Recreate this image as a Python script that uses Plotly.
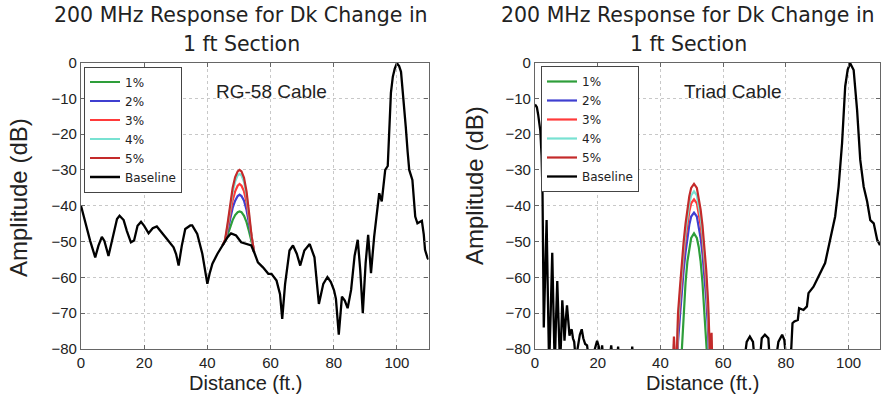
import plotly.graph_objects as go

# ---------------- data ----------------
series_names = ["1%", "2%", "3%", "4%", "5%", "Baseline"]

# RG-58 cable (left panel)
rg_x = [0, 1.3, 2.9, 4.5, 5.5, 6.6, 7.4, 8.7, 10.1, 11.4, 12.2, 13.5, 14.5, 15.8, 16.8, 17.9,
        19.0, 20.0, 21.4, 22.7, 24.0, 25.6, 27.2, 29.3, 30.1, 30.9, 31.9, 33.0, 34.6, 35.2,
        36.8, 38.4, 39.5, 40.0, 40.7, 41.6, 43.2, 44.8, 46.4, 47.5, 49.1, 50.7, 52.8, 53.9,
        55.0, 56.0, 57.6, 59.3, 60.3, 61.9, 63.0, 63.7, 64.6, 66.0, 67.1, 68.3, 69.4, 70.7,
        72.4, 73.9, 75.3, 76.7, 78.0, 79.1, 80.1, 80.7, 81.6, 82.6, 83.5, 84.4, 85.5, 86.6,
        87.6, 88.4, 89.2, 90.1, 90.9, 91.8, 92.8, 93.6, 94.4, 95.2, 96.3, 97.1, 97.6, 98.1,
        98.7, 99.3, 100.0, 100.7, 101.3, 102.0, 102.8, 103.4, 103.9, 104.9, 105.8, 106.5,
        107.9, 108.5, 108.9, 109.7, 110.0]
rg_base = [-40.0, -44.7, -49.8, -54.4, -51.2, -48.7, -49.8, -54.0, -48.8, -43.7, -42.8, -44.0,
           -47.0, -50.2, -49.7, -45.6, -44.5, -45.6, -47.7, -46.3, -45.8, -47.4, -49.3, -51.6,
           -53.5, -56.7, -51.2, -46.5, -45.5, -45.5, -47.9, -53.4, -60.0, -61.8, -59.0, -56.2,
           -53.4, -51.1, -48.8, -47.7, -48.3, -50.2, -50.7, -51.1, -53.4, -55.8, -57.2, -59.0,
           -59.0, -60.9, -64.7, -71.6, -61.9, -52.5, -51.1, -53.4, -56.7, -52.5, -50.7, -54.4,
           -67.4, -61.8, -59.9, -61.3, -63.6, -66.0, -76.0, -65.4, -66.5, -68.6, -63.5, -54.0,
           -49.5, -58.0, -70.0, -56.0, -48.1, -58.8, -48.6, -42.0, -36.5, -38.8, -30.0, -28.9,
           -18.0, -8.5, -4.0, -1.8, -0.2, -1.0, -2.6, -9.0, -17.9, -25.0, -30.0, -32.8, -43.0,
           -44.9, -44.2, -48.0, -52.3, -54.6, -55.0]
rg_peak_x = [44.8, 45.6, 46.4, 47.2, 48.0, 48.8, 49.6, 50.2, 50.8, 51.6, 52.4, 53.2, 54.0, 54.8]
rg_1 = [-51.1, -49.9, -48.2, -46.0, -44.0, -42.6, -41.8, -41.6, -41.8, -42.8, -44.6, -47.2, -50.0, -53.0]
rg_2 = [-51.1, -49.9, -47.0, -43.6, -40.6, -38.6, -37.3, -36.9, -37.3, -38.6, -41.2, -45.0, -49.3, -53.0]
rg_3 = [-51.1, -49.8, -46.3, -42.0, -38.5, -36.0, -34.4, -33.9, -34.4, -36.0, -39.0, -43.8, -49.0, -53.0]
rg_4 = [-51.1, -49.7, -45.5, -40.5, -36.2, -33.2, -31.5, -31.1, -31.5, -33.3, -37.0, -42.8, -48.8, -53.0]
rg_5 = [-51.1, -49.5, -45.0, -39.5, -35.0, -32.0, -30.4, -30.0, -30.4, -32.2, -36.0, -42.0, -48.5, -53.0]

# Triad cable (right panel)
tr_x = [0.0, 0.6, 1.0, 1.7, 2.1, 2.4, 2.8, 3.2, 3.7, 4.1, 4.5, 5.0, 5.5, 5.9, 6.3, 6.7, 7.1, 7.5,
        8.0, 8.4, 8.7, 9.1, 9.4, 9.8, 10.2, 10.6, 11.0, 11.3, 11.7, 12.1, 12.5, 13.0, 13.7, 14.3,
        14.9, 15.4, 16.0, 16.6, 17.5, 18.5, 19.3, 19.8, 20.4, 21.0, 21.4, 22.0, 23.5, 24.3, 25.0,
        26.0, 26.5, 27.0, 30.5, 31.0, 31.5, 40.0, 50.0, 60.0, 66.5, 67.5, 68.5, 69.5, 70.2, 71.5,
        72.3, 73.3, 74.4, 75.0, 76.5, 77.6, 78.8, 79.5, 80.3, 81.0, 81.7, 82.1, 82.7, 83.8, 84.2,
        85.6, 86.7, 87.2, 88.8, 90.4, 92.5, 94.1, 95.7, 96.8, 97.9, 98.9, 99.7, 100.5, 101.6,
        102.7, 103.7, 104.8, 105.9, 106.9, 108.0, 109.1, 110.0]
tr_base = [-11.7, -12.5, -14.5, -19.1, -26.0, -36.8, -74.0, -60.0, -44.0, -65.0, -85.0, -70.0,
           -53.1, -70.0, -85.0, -72.0, -61.0, -72.0, -85.0, -75.0, -66.4, -72.0, -77.7, -72.0,
           -67.8, -72.0, -76.3, -75.0, -74.5, -77.0, -78.0, -83.0, -79.0, -76.0, -74.5, -77.0,
           -78.6, -79.0, -85.0, -82.0, -79.0, -77.7, -79.5, -85.0, -79.0, -85.0, -85.0, -79.0,
           -85.0, -85.0, -79.3, -85.0, -85.0, -79.3, -85.0, -90.0, -95.0, -90.0, -85.0, -78.0,
           -76.5, -78.0, -85.0, -85.0, -77.0, -76.0, -77.0, -85.0, -85.0, -78.0, -76.0, -77.5,
           -85.0, -85.0, -80.0, -72.8, -72.3, -71.9, -68.6, -69.1, -68.1, -64.4, -62.6, -59.8,
           -56.0, -49.5, -43.0, -34.7, -22.6, -6.7, -2.0, -0.2, -2.1, -13.3, -27.2, -34.7, -38.8,
           -44.0, -44.9, -49.5, -51.0]
tr_peak_x = [43.5, 44.3, 45.0, 45.6, 46.2, 46.8, 47.4, 48.0, 48.6, 49.2, 49.8, 50.7, 51.6, 52.2,
             52.8, 53.4, 54.0, 54.6, 55.2, 55.8, 56.3, 56.8]
tr_1 = [-95, -95, -95, -95, -90, -80, -70, -61.5, -55.5, -51.5, -49.0, -47.7, -49.0, -51.5,
        -55.5, -61.5, -71.0, -85.0, -95, -95, -95, -95]
tr_2 = [-95, -84.5, -95, -78.0, -71.0, -64.0, -58.0, -53.0, -48.5, -45.3, -43.0, -41.9, -43.0,
        -45.5, -49.0, -53.5, -59.0, -66.0, -75.0, -90.0, -83.5, -95]
tr_3 = [-95, -80.8, -92, -74.3, -67.3, -60.3, -54.3, -49.3, -44.8, -41.6, -39.3, -38.2, -39.3,
        -41.8, -45.3, -49.8, -55.3, -62.3, -71.3, -86.0, -79.8, -95]
tr_4 = [-95, -78.6, -90, -72.1, -65.1, -58.1, -52.1, -47.1, -42.6, -39.4, -37.1, -36.0, -37.1,
        -39.6, -43.1, -47.6, -53.1, -60.1, -69.1, -84.0, -77.6, -95]
tr_5 = [-95, -76.5, -88, -70.0, -63.0, -56.0, -50.0, -45.0, -40.5, -37.3, -35.0, -33.9, -35.0,
        -37.5, -41.0, -45.5, -51.0, -58.0, -67.0, -82.0, -75.5, -95]

x_ticks = [0, 20, 40, 60, 80, 100]
y_ticks = [0, -10, -20, -30, -40, -50, -60, -70, -80]

title_line1 = "200 MHz Response for Dk Change in"
title_line2 = "1 ft Section"
panel_labels = ["RG-58 Cable", "Triad Cable"]

# ---------------- style ----------------
colors = ["#2e9e3a", "#3f3fd0", "#ff3a3a", "#78e2d2", "#c42a2a", "#000000"]
W, H = 883, 403
TXT = "#222222"
SANS = "Liberation Sans, Arial, sans-serif"
DEJAVU = "DejaVu Sans, sans-serif"

fig = go.Figure()

left_sets = [(rg_peak_x, rg_1), (rg_peak_x, rg_2), (rg_peak_x, rg_3), (rg_peak_x, rg_4),
             (rg_peak_x, rg_5), (rg_x, rg_base)]
right_sets = [(tr_peak_x, tr_1), (tr_peak_x, tr_2), (tr_peak_x, tr_3), (tr_peak_x, tr_4),
              (tr_peak_x, tr_5), (tr_x, tr_base)]

for i, (xs, ys) in enumerate(left_sets):
    fig.add_trace(go.Scatter(x=xs, y=ys, mode="lines", name=series_names[i],
                             line=dict(color=colors[i], width=2.2 if i < 5 else 2.3),
                             xaxis="x", yaxis="y", legend="legend"))
for i, (xs, ys) in enumerate(right_sets):
    fig.add_trace(go.Scatter(x=xs, y=ys, mode="lines", name=series_names[i],
                             line=dict(color=colors[i], width=2.2 if i < 5 else 2.3),
                             xaxis="x2", yaxis="y2", legend="legend2"))

def px_x(p):
    return p / W

def px_y(p):
    return 1 - p / H

xl = [81 / W, 428.5 / W]
xr = [535 / W, 880 / W]
yd = [1 - 349 / H, 1 - 62.5 / H]

axis_common = dict(
    showgrid=True, gridcolor="#c8c8c8", griddash="dot", gridwidth=1,
    showline=True, linecolor="#666666", linewidth=1.2, mirror="ticks",
    ticks="inside", ticklen=4, tickcolor="#666666",
    zeroline=False, tickfont=dict(family=SANS, size=15, color=TXT),
    automargin=False,
)

legend_common = dict(xanchor="left", yanchor="top",
                     bgcolor="white", bordercolor="#444444", borderwidth=1,
                     font=dict(family=DEJAVU, size=12, color=TXT),
                     tracegroupgap=0, itemwidth=30)

fig.update_layout(
    width=W, height=H, autosize=False,
    margin=dict(l=0, r=0, t=0, b=0, pad=0, autoexpand=False),
    paper_bgcolor="white", plot_bgcolor="white",
    xaxis=dict(domain=xl, range=[0, 110], tickvals=x_ticks, anchor="y", **axis_common),
    yaxis=dict(domain=yd, range=[-80, 0], tickvals=y_ticks, anchor="x", **axis_common),
    xaxis2=dict(domain=xr, range=[0, 110], tickvals=x_ticks, anchor="y2", **axis_common),
    yaxis2=dict(domain=yd, range=[-80, 0], tickvals=y_ticks, anchor="x2", **axis_common),
    legend=dict(x=px_x(84), y=px_y(66.5), **legend_common),
    legend2=dict(x=px_x(541), y=px_y(66), **legend_common),
    showlegend=True,
)

ann = []
for cx in [241, 688]:
    ann.append(dict(text=title_line1, x=px_x(cx), y=px_y(15), xref="paper", yref="paper",
                    xanchor="center", yanchor="middle", showarrow=False,
                    font=dict(family=DEJAVU, size=20.5, color=TXT)))
    ann.append(dict(text=title_line2, x=px_x(cx), y=px_y(44), xref="paper", yref="paper",
                    xanchor="center", yanchor="middle", showarrow=False,
                    font=dict(family=DEJAVU, size=20.5, color=TXT)))
for cx in [245, 702]:
    ann.append(dict(text="Distance (ft.)", x=px_x(cx), y=px_y(383), xref="paper", yref="paper",
                    xanchor="center", yanchor="middle", showarrow=False,
                    font=dict(family=SANS, size=20, color=TXT)))
for cx, cy in [(18, 198), (474, 186)]:
    ann.append(dict(text="Amplitude (dB)", x=px_x(cx), y=px_y(cy), xref="paper", yref="paper",
                    xanchor="center", yanchor="middle", showarrow=False, textangle=-90,
                    font=dict(family=SANS, size=24, color=TXT)))
ann.append(dict(text=panel_labels[0], x=60.3, y=-8.2, xref="x", yref="y", showarrow=False,
                xanchor="center", yanchor="middle", font=dict(family=SANS, size=19, color=TXT)))
ann.append(dict(text=panel_labels[1], x=63.2, y=-8.1, xref="x2", yref="y2", showarrow=False,
                xanchor="center", yanchor="middle", font=dict(family=SANS, size=19, color=TXT)))
fig.update_layout(annotations=ann)

fig.write_html("out.html")
